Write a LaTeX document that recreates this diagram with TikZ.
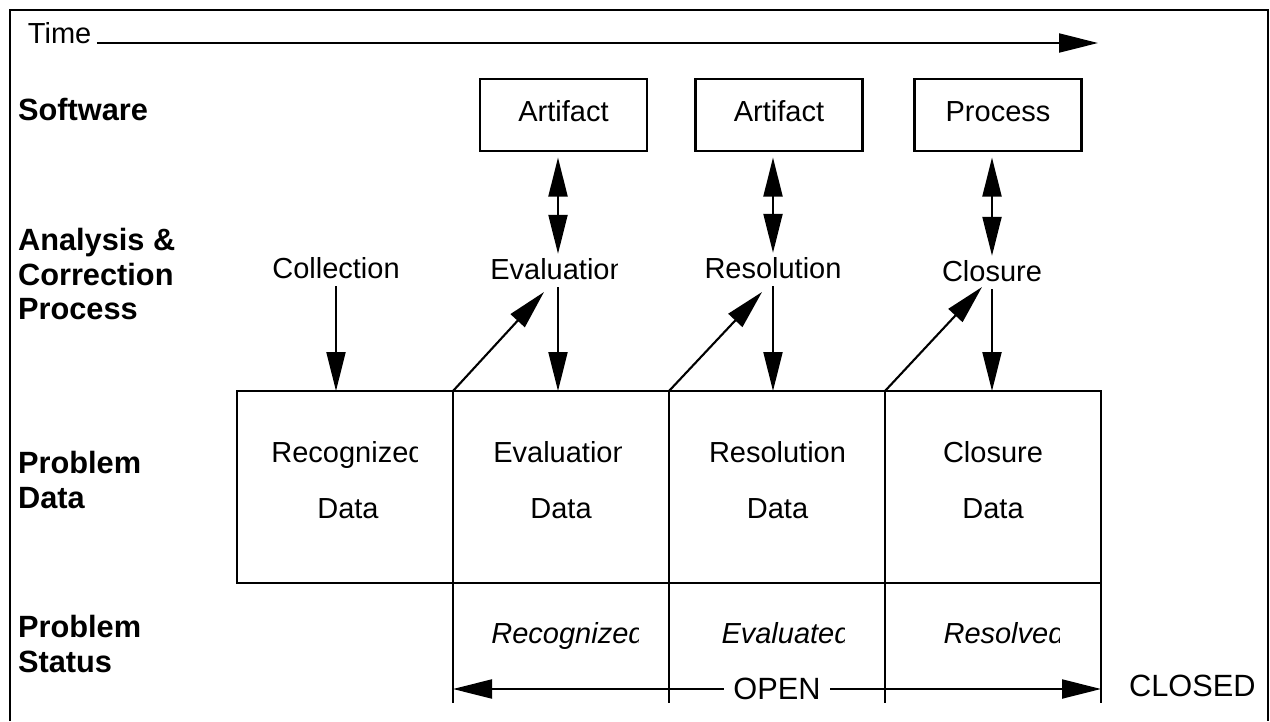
\documentclass[tikz,border=0pt]{standalone}
\usepackage{fontspec}
\setmainfont{Liberation Sans}
\usepackage{tikz}
\usetikzlibrary{arrows.meta, positioning}

\begin{document}
\begin{tikzpicture}[line width=1.2pt, >={Triangle[length=0.78cm, width=0.38cm]},
  every node/.style={font=\fontsize{16.5}{20}\selectfont},
  rowlabel/.style={anchor=west, align=left, inner sep=0pt, font=\bfseries\fontsize{17.5}{19.5}\selectfont},
  swbox/.style={draw, rectangle, minimum width=3.34cm, minimum height=1.44cm, text depth=0.15cm},
  steplabel/.style={inner sep=2pt},
  datacol/.style={draw, rectangle, outer sep=0pt, minimum width=4.32cm, minimum height=3.84cm},
  datatext/.style={align=center, font=\fontsize{16.5}{32}\selectfont},
  statustext/.style={anchor=base, font=\itshape\fontsize{16.5}{20}\selectfont},
  bigtext/.style={font=\fontsize{17.5}{20}\selectfont}]
\useasboundingbox (0,0) rectangle (25.4,-14.42);

% Rahmen
\draw (0.2,-14.42) -- (0.2,-0.2) -- (25.36,-0.2) -- (25.36,-14.42);

% Zeitachse
\node (time) at (0.45,-0.86) [anchor=base west, inner sep=2.5pt] {Time};
\coordinate (timeend) at (21.96,-0.86);
\draw[->] (time.base east) -- (timeend);

% Zeilenbeschriftungen
\node (software) at (0.34,-2.2) [rowlabel] {Software};
\node (process) at (0.34,-5.48) [rowlabel] {Analysis \&\\Correction\\Process};
\node (data) at (0.34,-9.6) [rowlabel] {Problem\\Data};
\node (status) at (0.34,-12.88) [rowlabel] {Problem\\Status};

% Software
\node (art1) at (11.27,-2.3) [swbox] {Artifact};
\node (art2) at (15.58,-2.3) [swbox] {Artifact};
\node (proc) at (19.96,-2.3) [swbox] {Process};

% Analyse- und Korrekturprozess
\node (coll) at (6.72,-5.36) [steplabel] {Collection};
\begin{scope}
\clip (9.5,-4.6) rectangle (12.34,-6.1);
\node (eval) at (11.16,-5.38) [steplabel] {Evaluation};
\end{scope}
\node (res) at (15.46,-5.36) [steplabel] {Resolution};
\node (clos) at (19.84,-5.42) [steplabel] {Closure};

% Problemdaten
\node (col1) at (6.90,-9.74) [datacol] {};
\node (col2) [datacol, right=0pt of col1] {};
\node (col3) [datacol, right=0pt of col2] {};
\node (col4) [datacol, right=0pt of col3] {};

\begin{scope}
\clip (4.8,-8.5) rectangle (8.34,-10.7);
\node (recdata) at (6.96,-9.6) [datatext] {Recognized\\Data};
\end{scope}
\begin{scope}
\clip (9.1,-8.5) rectangle (12.42,-10.7);
\node (evaldata) at (11.22,-9.6) [datatext] {Evaluation\\Data};
\end{scope}
\node (resdata) at (15.55,-9.6) [datatext] {Resolution\\Data};
\node (closdata) at (19.86,-9.6) [datatext] {Closure\\Data};

% Problemstatus
\draw (col2.south west) -- ++(0,-2.4);
\draw (col3.south west) -- ++(0,-2.4);
\draw (col4.south west) -- ++(0,-2.4);
\draw (col4.south east) -- ++(0,-2.4);

\begin{scope}
\clip (9.1,-12.0) rectangle (12.76,-13.3);
\node (strec) at (11.36,-12.86) [statustext] {Recognized};
\end{scope}
\begin{scope}
\clip (13.4,-12.0) rectangle (16.88,-13.3);
\node (steval) at (15.72,-12.86) [statustext] {Evaluated};
\end{scope}
\begin{scope}
\clip (17.72,-12.0) rectangle (21.18,-13.3);
\node (stres) at (20.08,-12.86) [statustext] {Resolved};
\end{scope}

% Pfeile Software <-> Prozess
\draw[<->, shorten <=0.11cm] (eval.north |- art1.south) -- (eval.north);
\draw[<->, shorten <=0.11cm] (res.north |- art2.south) -- (res.north);
\draw[<->, shorten <=0.11cm] (clos.north |- proc.south) -- (clos.north);

% Pfeile Prozess -> Daten
\draw[->, shorten <=0.06cm] (coll.south) -- (coll.south |- col1.north);
\draw[->, shorten <=0.06cm] (eval.south) -- (eval.south |- col2.north);
\draw[->, shorten <=0.06cm] (res.south) -- (res.south |- col3.north);
\draw[->, shorten <=0.06cm] (clos.south) -- (clos.south |- col4.north);

% Pfeile Daten -> Prozess
\draw[->] (col2.north west) -- ([xshift=-0.28cm, yshift=-0.46cm]eval.center);
\draw[->] (col3.north west) -- ([xshift=-0.22cm, yshift=-0.48cm]res.center);
\draw[->] (col4.north west) -- ([xshift=-0.2cm, yshift=-0.32cm]clos.center);

% OPEN / CLOSED
\coordinate (openy) at (0,-13.78);
\draw[<->] (col2.south west |- openy) -- (col4.south east |- openy)
  node[midway, fill=white, inner xsep=5.5pt, bigtext] (open) {OPEN};
\node (closed) at (22.56,-13.72) [anchor=west, inner sep=0pt, bigtext] {CLOSED};
\end{tikzpicture}
\end{document}
